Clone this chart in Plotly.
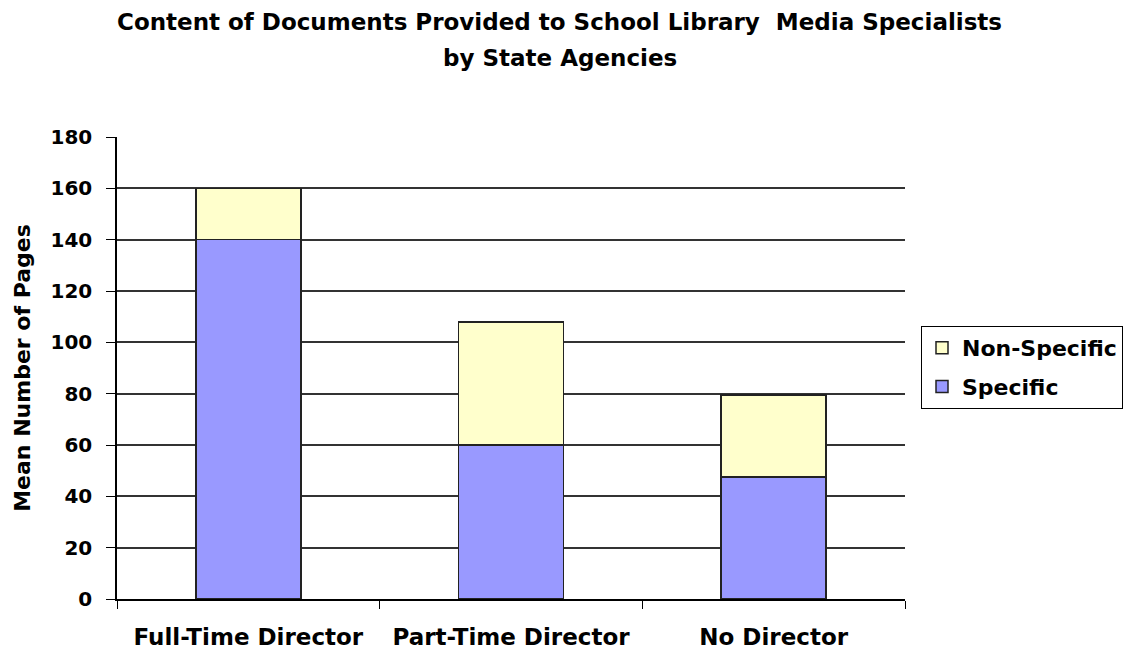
import plotly.graph_objects as go

categories = ["Full-Time Director", "Part-Time Director", "No Director"]
specific = [140, 60, 47.5]
non_specific = [20, 48, 32]
y_ticks = [0, 20, 40, 60, 80, 100, 120, 140, 160, 180]
title_lines = ["Content of Documents Provided to School Library  Media Specialists",
               "by State Agencies"]

FONT = "DejaVu Sans, Liberation Sans, Arial, sans-serif"

fig = go.Figure()
fig.add_trace(go.Bar(name="Specific", x=categories, y=specific, legendgroup="s", legendrank=2,
                     marker=dict(color="#9999ff", line=dict(color="#222222", width=1.5)),
                     width=0.4))
fig.add_trace(go.Bar(name="Non-Specific", x=categories, y=non_specific, legendgroup="n", legendrank=1,
                     marker=dict(color="#ffffcc", line=dict(color="#222222", width=1.5)),
                     width=0.4))

fig.update_layout(
    barmode="stack",
    width=1123, height=651,
    margin=dict(l=117, r=218, t=137, b=52),
    paper_bgcolor="white", plot_bgcolor="white",
    font=dict(family=FONT, color="black", size=20, weight="bold"),
    legend=dict(xref="container", yref="container",
                x=921 / 1123, xanchor="left", y=1 - 326 / 651, yanchor="top",
                traceorder="grouped", tracegroupgap=7,
                bordercolor="black", borderwidth=1,
                font=dict(size=22, family=FONT, weight="bold"),
                bgcolor="white", itemwidth=30),
    showlegend=True,
)
for txt, ypix in zip(title_lines, [22, 58]):
    fig.add_annotation(text=txt, xref="paper", yref="paper",
                       x=0.562, y=(599 - ypix) / 462, xanchor="center", yanchor="middle",
                       showarrow=False, font=dict(size=23, family=FONT, weight="bold"))

fig.update_xaxes(showline=True, linecolor="black", linewidth=1.5, automargin=False,
                 ticks="outside", tickson="boundaries", ticklen=8, tickcolor="black",
                 ticklabelstandoff=17,
                 tickfont=dict(size=23, family=FONT, weight="bold"),
                 showgrid=False)
fig.update_yaxes(range=[0, 180], tickvals=y_ticks, showline=True, linecolor="black", linewidth=1.5,
                 automargin=False,
                 ticks="outside", ticklen=9, tickcolor="black",
                 ticklabelstandoff=10,
                 showgrid=True, gridcolor="#333333", gridwidth=1.5,
                 zeroline=False,
                 tickfont=dict(size=20, family=FONT, weight="bold"),
                 title=dict(text="Mean Number of Pages", standoff=14,
                            font=dict(size=22, family=FONT, weight="bold")))

fig.write_html("out.html")
